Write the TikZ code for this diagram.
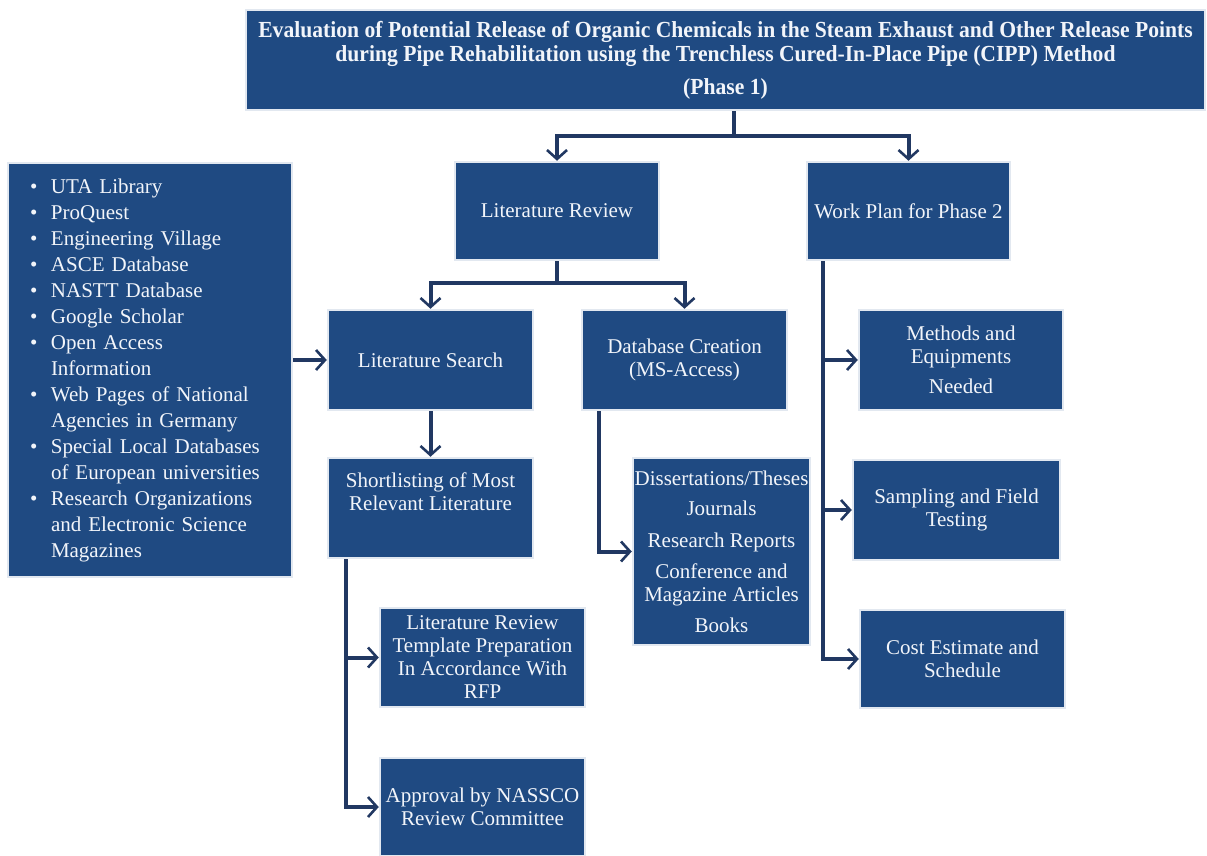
\documentclass[tikz,border=0pt]{standalone}
\usepackage{fontspec}
\setmainfont{Liberation Serif}
\newfontfamily\titlefont[FakeStretch=0.94]{Liberation Serif}
\usetikzlibrary{arrows.meta}
\definecolor{boxblue}{RGB}{31,74,130}
\definecolor{linenavy}{RGB}{33,56,98}
\definecolor{boxedge}{RGB}{226,232,240}
\definecolor{txt}{RGB}{242,245,250}
\newcommand\srcitem{\makebox[21pt][l]{\textbullet}}
\newcommand\srccont{\hspace*{21pt}}
\begin{document}
\begin{tikzpicture}[x=1pt,y=-1pt,
  box/.style={rectangle, fill=boxblue, draw=boxedge, line width=2.5pt, text=txt,
    align=center, inner sep=1pt, font=\fontsize{21}{23}\selectfont},
  conn/.style={draw=linenavy, line width=4pt},
  arr/.style={conn, -{Straight Barb[length=9pt,width=20pt,line width=2.6pt]}},
]
\fill[white] (0,0) rectangle (1207,856);
\useasboundingbox (0,0) rectangle (1207,856);

\node[box, minimum width=959, minimum height=100,
  font=\titlefont\bfseries\fontsize{23}{24}\selectfont] (title) at (725.5,60)
  {Evaluation of Potential Release of Organic Chemicals in the Steam Exhaust and Other Release Points\\
   during Pipe Rehabilitation using the Trenchless Cured-In-Place Pipe (CIPP) Method\\[9pt]
   (Phase 1)};

\node[box, minimum width=204, minimum height=98] (litrev) at (557,211) {Literature Review};
\node[box, minimum width=203, minimum height=98] (workplan) at (908.5,211) {Work Plan for Phase 2};

\node[box, minimum width=284, minimum height=414, align=left, text width=240pt,
  font=\fontsize{21}{26}\selectfont] (sources) at (150,370)
  {\srcitem UTA Library\\
   \srcitem ProQuest\\
   \srcitem Engineering Village\\
   \srcitem ASCE Database\\
   \srcitem NASTT Database\\
   \srcitem Google Scholar\\
   \srcitem Open Access\\
   \srccont Information\\
   \srcitem Web Pages of National\\
   \srccont Agencies in Germany\\
   \srcitem Special Local Databases\\
   \srccont of European universities\\
   \srcitem Research Organizations\\
   \srccont and Electronic Science\\
   \srccont Magazines};

\node[box, minimum width=205, minimum height=100] (litsearch) at (430.5,360) {Literature Search};
\node[box, minimum width=205, minimum height=100] (dbcreate) at (684.5,360) {Database Creation\\(MS-Access)};
\node[box, minimum width=205, minimum height=100] (shortlist) at (430.5,508)
  {Shortlisting of Most\\Relevant Literature\\[9pt]\mbox{}};
\node[box, minimum width=205, minimum height=99] (template) at (482.5,657.5)
  {Literature Review\\Template Preparation\\In Accordance With\\RFP};
\node[box, minimum width=205, minimum height=98] (approval) at (482.5,807)
  {Approval by NASSCO\\Review Committee};
\node[box, minimum width=177, minimum height=187, inner xsep=0pt] (dblist) at (721.5,551.5)
  {Dissertations/Theses\\[7pt]Journals\\[9pt]Research Reports\\[8pt]Conference and\\Magazine Articles\\[8pt]Books};

\node[box, minimum width=204, minimum height=100] (methods) at (961,360)
  {Methods and\\Equipments\\[7pt]Needed};
\node[box, minimum width=207, minimum height=100] (sampling) at (956.5,510)
  {Sampling and Field\\Testing};
\node[box, minimum width=205, minimum height=98] (cost) at (962.5,659)
  {Cost Estimate and\\Schedule};

% connectors
\coordinate (j1) at (734,136);
\draw[conn] (title.south -| j1) -- (j1);
\draw[arr] (j1) -| (litrev.north);
\draw[arr] (j1) -| (workplan.north);

\coordinate (j2) at (557,283);
\draw[conn] (litrev.south) -- (j2);
\draw[arr] (j2) -| (litsearch.north);
\draw[arr] (j2) -| (dbcreate.north);

\draw[arr] (sources.east |- litsearch.west) -- (litsearch.west);
\draw[arr] (litsearch.south) -- (shortlist.north);

\coordinate (s1) at ([xshift=19pt]shortlist.south west);
\draw[arr] (s1) |- (template.west);
\draw[arr] (s1) |- (approval.west);

\coordinate (d1) at ([xshift=18pt]dbcreate.south west);
\draw[arr] (d1) |- (dblist.west);

\coordinate (w1) at ([xshift=17pt]workplan.south west);
\draw[arr] (w1) |- (methods.west);
\draw[arr] (w1) |- (sampling.west);
\draw[arr] (w1) |- (cost.west);
\end{tikzpicture}
\end{document}
